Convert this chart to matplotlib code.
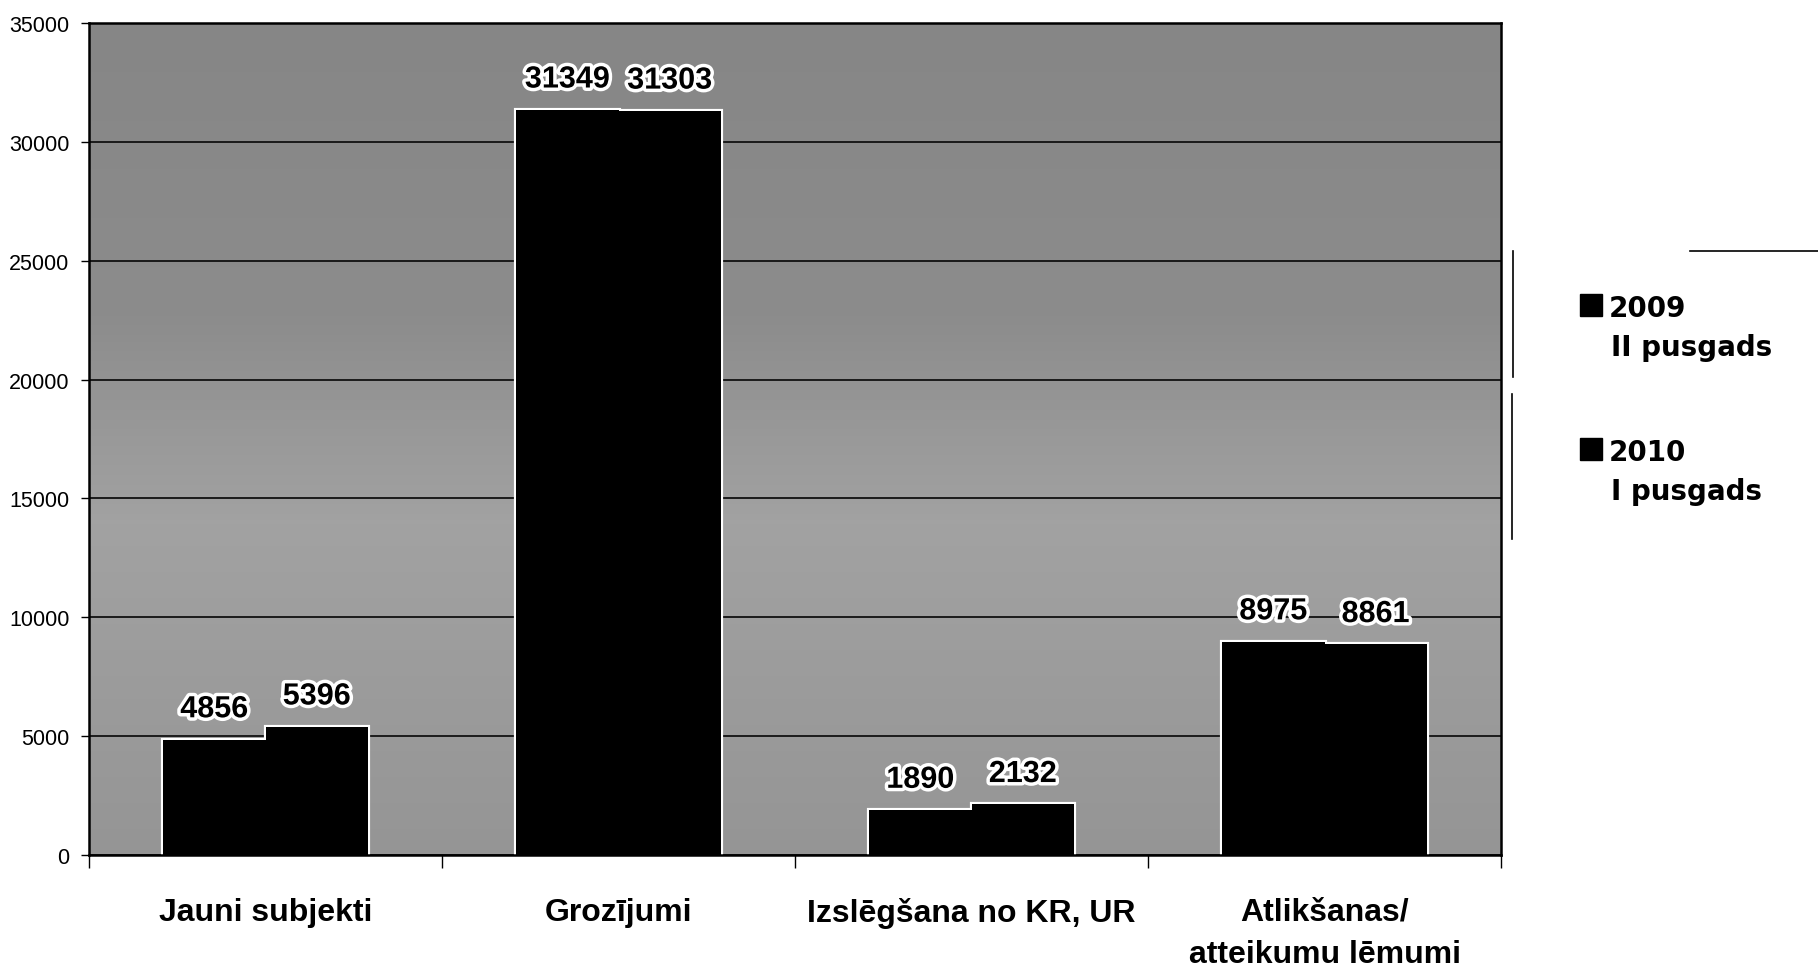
import matplotlib
matplotlib.use("Agg")
import matplotlib.pyplot as plt
import matplotlib.patheffects as pe
from matplotlib.lines import Line2D
from matplotlib.patches import Rectangle
from matplotlib.colors import LinearSegmentedColormap
import numpy as np

plt.rcParams['font.family'] = ['Liberation Sans', 'DejaVu Sans']

categories = ["Jauni subjekti", "Grozījumi", "Izslēgšana no KR, UR", "Atlikšanas/\natteikumu lēmumi"]
series_line1 = ["2009", "2010"]
series_line2 = ["II pusgads", "I pusgads"]
values_2009 = [4856, 31349, 1890, 8975]
values_2010 = [5396, 31303, 2132, 8861]
y_ticks = [0, 5000, 10000, 15000, 20000, 25000, 30000, 35000]

W, H = 1818, 970
fig = plt.figure(figsize=(W / 100, H / 100), dpi=100)
ax = fig.add_axes([89 / W, 1 - 856 / H, (1501 - 89) / W, (856 - 24) / H])

# dithered-looking grey background: darker at top, lighter band in the middle
bg = LinearSegmentedColormap.from_list("bg", [(0.0, "#959595"), (0.4, "#a2a2a2"), (0.65, "#8c8c8c"), (1.0, "#868686")])
grad = np.linspace(0, 1, 256).reshape(-1, 1)
ax.imshow(grad, cmap=bg, aspect="auto", extent=(-0.5, 3.5, 0, 35000), origin="lower", zorder=0)

x = np.arange(len(categories))
w = 0.29
for off, vals in ((-w / 2, values_2009), (w / 2, values_2010)):
    ax.bar(x + off, vals, w, color="black", edgecolor="white", linewidth=3, zorder=3)
b1 = ax.bar(x - w / 2, values_2009, w, color="black", linewidth=0, zorder=4)
b2 = ax.bar(x + w / 2, values_2010, w, color="black", linewidth=0, zorder=4)

outline = [pe.withStroke(linewidth=5, foreground="white")]
for bars, vals in ((b1, values_2009), (b2, values_2010)):
    for rect, v in zip(bars, vals):
        ax.annotate(str(v), (rect.get_x() + rect.get_width() / 2, v), xytext=(0, 11),
                    textcoords="offset points", ha="center", va="bottom",
                    fontsize=22, fontweight="bold", color="black", path_effects=outline, zorder=5)

ax.set_ylim(0, 35000)
ax.set_xlim(-0.5, len(categories) - 0.5)
ax.set_yticks(y_ticks)
ax.set_yticklabels([str(t) for t in y_ticks], fontsize=15.5)
ax.yaxis.grid(True, color="#111111", linewidth=1.3, zorder=1)
ax.set_axisbelow(False)
for gl in ax.get_ygridlines():
    gl.set_zorder(1)

ax.set_xticks(np.arange(-0.5, len(categories), 1.0))
ax.set_xticklabels([])
ax.set_xticks(x, minor=True)
ax.set_xticklabels(categories, minor=True, fontsize=23, fontweight="bold", linespacing=1.55)
ax.tick_params(axis="x", which="minor", length=0, pad=30)
ax.tick_params(axis="x", which="major", length=9, direction="out", width=1)
ax.tick_params(axis="y", length=6, direction="out", width=1, pad=8)
for s in ax.spines.values():
    s.set_linewidth(1.8)
    s.set_color("black")
    s.set_zorder(6)

# legend drawn by hand
leg_font = dict(family="DejaVu Sans", fontsize=20, fontweight="bold", color="black")
for i, (l1, l2) in enumerate(zip(series_line1, series_line2)):
    top = 295 + 144 * i
    fig.add_artist(Rectangle((1580 / W, 1 - (top + 22) / H), 22 / W, 22 / H,
                             transform=fig.transFigure, color="black"))
    fig.text(1609 / W, 1 - (top + 22) / H, l1, ha="left", va="baseline", **leg_font)
    fig.text(1611 / W, 1 - (top + 61) / H, l2, ha="left", va="baseline", **leg_font)

# partial legend frame lines from the scan
fig.add_artist(Line2D([1513 / W, 1513 / W], [1 - 252 / H, 1 - 378 / H], color="black", lw=1.2))
fig.add_artist(Line2D([1512 / W, 1512 / W], [1 - 395 / H, 1 - 540 / H], color="black", lw=1.2))
fig.add_artist(Line2D([1690 / W, 1.0], [1 - 252 / H, 1 - 252 / H], color="black", lw=1.2))

fig.savefig("out.png", dpi=100, facecolor="white")
